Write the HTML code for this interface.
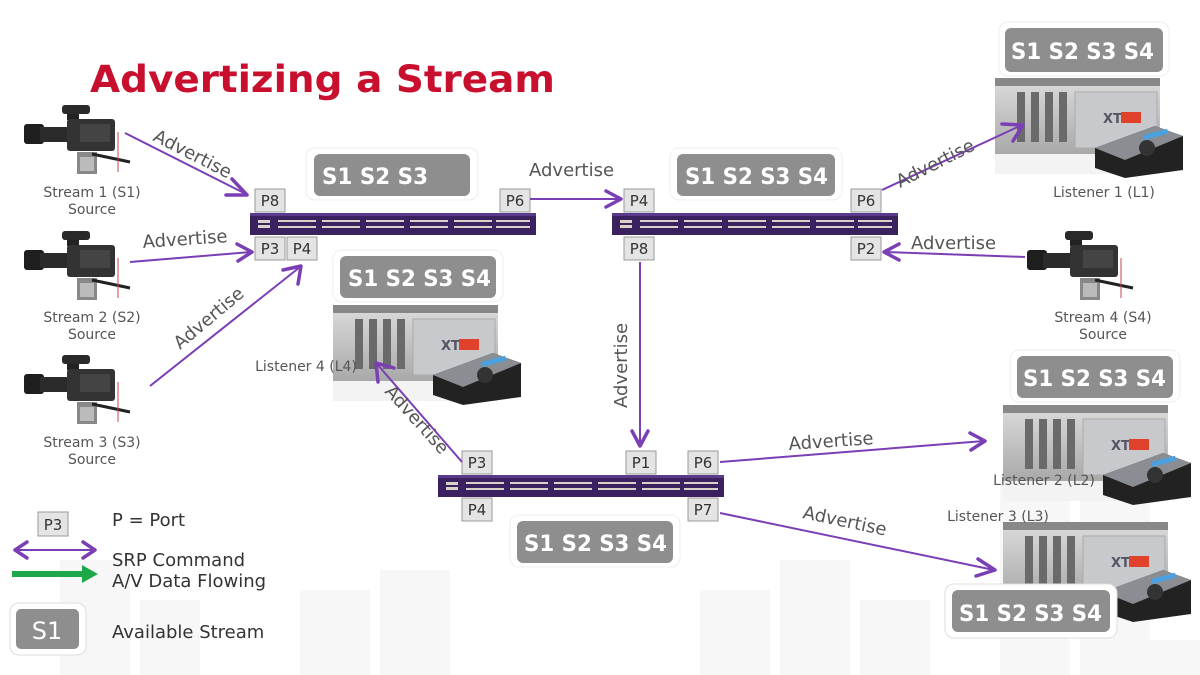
<!DOCTYPE html>
<html><head><meta charset="utf-8"><style>
html,body{margin:0;padding:0;background:#fff;}
svg{display:block;font-family:"DejaVu Sans","Liberation Sans",sans-serif;}
.pb{fill:#e4e4e4;stroke:#9a9a9a;stroke-width:1;}
.pt{font-size:15px;fill:#333;text-anchor:middle;}
.lbl{font-size:14px;fill:#555;text-anchor:middle;}
.adv{font-size:18px;fill:#555;}
.st{font-size:22px;font-weight:bold;fill:#fff;}
.ar{stroke:#7b3fb5;stroke-width:2;fill:none;}
.ah{stroke:#7b3fb5;stroke-width:3.5;fill:none;stroke-linecap:round;stroke-linejoin:round;}
.leg{font-size:18px;fill:#333;}
</style></head><body>
<svg width="1200" height="675" viewBox="0 0 1200 675">
<defs>
<linearGradient id="srv" x1="0" y1="0" x2="0" y2="1"><stop offset="0" stop-color="#d8d8d8"/><stop offset="1" stop-color="#a9a9a9"/></linearGradient>
<symbol id="cam" viewBox="0 0 110 80" width="110" height="80" overflow="visible">
 <rect x="45" y="10" width="12" height="8" fill="#222"/>
 <rect x="40" y="3" width="28" height="9" rx="3" fill="#2a2a2a"/>
 <rect x="2" y="22" width="20" height="20" rx="3" fill="#1e1e1e"/>
 <rect x="18" y="25" width="30" height="15" fill="#2b2b2b"/>
 <rect x="45" y="17" width="48" height="32" rx="3" fill="#333"/>
 <rect x="58" y="22" width="30" height="18" fill="#444"/>
 <rect x="55" y="50" width="20" height="22" fill="#888"/>
 <rect x="58" y="55" width="14" height="14" fill="#bbb"/>
 <line x1="70" y1="52" x2="108" y2="60" stroke="#222" stroke-width="3"/>
 <line x1="96" y1="30" x2="96" y2="70" stroke="#c44" stroke-width="1"/>
</symbol>
<symbol id="srvr" viewBox="0 0 190 100" width="190" height="100" overflow="visible">
 <rect x="0" y="6" width="165" height="70" fill="url(#srv)"/>
 <rect x="0" y="0" width="165" height="8" fill="#888"/>
 <g fill="#6a6a6a"><rect x="22" y="14" width="8" height="50"/><rect x="36" y="14" width="8" height="50"/><rect x="50" y="14" width="8" height="50"/><rect x="64" y="14" width="8" height="50"/></g>
 <rect x="80" y="14" width="82" height="56" fill="#c7c9cc" stroke="#aaa"/>
 <text x="108" y="45" font-size="13" font-weight="bold" fill="#556">XT</text>
 <rect x="126" y="34" width="20" height="11" fill="#e0412a"/>
 <rect x="0" y="76" width="165" height="20" fill="#f3f3f3"/>
 <polygon points="100,70 160,48 188,58 188,92 130,100 100,90" fill="#222"/>
 <polygon points="100,70 160,48 188,58 130,82" fill="#8a8d92"/>
 <rect x="148" y="54" width="25" height="5" fill="#4ba0e0" transform="rotate(-15 160 56)"/>
 <circle cx="152" cy="70" r="8" fill="#333"/>
</symbol>
<symbol id="sw" viewBox="0 0 286 22" width="286" height="22">
 <rect x="0" y="0" width="286" height="22" fill="#3b2160"/>
 <rect x="0" y="0" width="286" height="3" fill="#5a3a8a"/>
 <g fill="#d9d2c8">
  <rect x="8" y="7" width="12" height="3"/><rect x="8" y="12" width="12" height="3"/>
  <rect x="28" y="7" width="38" height="2"/><rect x="28" y="13" width="38" height="2"/>
  <rect x="72" y="7" width="38" height="2"/><rect x="72" y="13" width="38" height="2"/>
  <rect x="116" y="7" width="38" height="2"/><rect x="116" y="13" width="38" height="2"/>
  <rect x="160" y="7" width="38" height="2"/><rect x="160" y="13" width="38" height="2"/>
  <rect x="204" y="7" width="38" height="2"/><rect x="204" y="13" width="38" height="2"/>
  <rect x="246" y="7" width="34" height="2"/><rect x="246" y="13" width="34" height="2"/>
 </g>
</symbol>
</defs>
<rect width="1200" height="675" fill="#fff"/>
<g fill="#f7f7f7">
 <rect x="60" y="560" width="70" height="115"/><rect x="140" y="600" width="60" height="75"/>
 <rect x="300" y="590" width="70" height="85"/><rect x="380" y="570" width="70" height="105"/>
 <rect x="700" y="590" width="70" height="85"/><rect x="780" y="560" width="70" height="115"/>
 <rect x="860" y="600" width="70" height="75"/><rect x="1000" y="480" width="70" height="195"/>
 <rect x="1080" y="500" width="70" height="175"/><rect x="1130" y="640" width="70" height="35"/>
</g>

<text x="90" y="92" font-size="37" font-weight="bold" fill="#c8102e" textLength="465" lengthAdjust="spacingAndGlyphs">Advertizing a Stream</text>

<use href="#cam" x="22" y="102"/>
<use href="#cam" x="22" y="228"/>
<use href="#cam" x="22" y="352"/>
<use href="#cam" x="1025" y="228"/>
<text class="lbl" x="92" y="197">Stream 1 (S1)</text><text class="lbl" x="92" y="214">Source</text>
<text class="lbl" x="92" y="322">Stream 2 (S2)</text><text class="lbl" x="92" y="339">Source</text>
<text class="lbl" x="92" y="447">Stream 3 (S3)</text><text class="lbl" x="92" y="464">Source</text>
<text class="lbl" x="1103" y="322">Stream 4 (S4)</text><text class="lbl" x="1103" y="339">Source</text>

<use href="#srvr" x="995" y="78"/>
<use href="#srvr" x="333" y="305"/>
<use href="#srvr" x="1003" y="405"/>
<use href="#srvr" x="1003" y="522"/>
<text class="lbl" x="1104" y="197">Listener 1 (L1)</text>
<text class="lbl" x="306" y="371">Listener 4 (L4)</text>
<text class="lbl" x="1044" y="485">Listener 2 (L2)</text>
<text class="lbl" x="998" y="521">Listener 3 (L3)</text>

<g>
 <rect x="306" y="148" width="172" height="52" rx="9" fill="#fff" stroke="#eee"/>
 <rect x="314" y="154" width="156" height="42" rx="6" fill="#8e8e8e"/>
 <text class="st" x="322" y="184" textLength="106" lengthAdjust="spacingAndGlyphs">S1 S2 S3</text>
 <rect x="670" y="148" width="172" height="52" rx="9" fill="#fff" stroke="#eee"/>
 <rect x="677" y="154" width="158" height="42" rx="6" fill="#8e8e8e"/>
 <text class="st" x="685" y="184" textLength="143" lengthAdjust="spacingAndGlyphs">S1 S2 S3 S4</text>
 <rect x="333" y="250" width="170" height="52" rx="9" fill="#fff" stroke="#eee"/>
 <rect x="340" y="256" width="156" height="42" rx="6" fill="#8e8e8e"/>
 <text class="st" x="348" y="286" textLength="143" lengthAdjust="spacingAndGlyphs">S1 S2 S3 S4</text>
 <rect x="999" y="22" width="170" height="54" rx="9" fill="#fff" stroke="#eee"/>
 <rect x="1005" y="28" width="158" height="44" rx="6" fill="#8e8e8e"/>
 <text class="st" x="1011" y="59" textLength="143" lengthAdjust="spacingAndGlyphs">S1 S2 S3 S4</text>
 <rect x="1010" y="350" width="170" height="52" rx="9" fill="#fff" stroke="#eee"/>
 <rect x="1017" y="356" width="156" height="42" rx="6" fill="#8e8e8e"/>
 <text class="st" x="1023" y="386" textLength="143" lengthAdjust="spacingAndGlyphs">S1 S2 S3 S4</text>
 <rect x="510" y="515" width="170" height="52" rx="9" fill="#fff" stroke="#eee"/>
 <rect x="517" y="521" width="156" height="42" rx="6" fill="#8e8e8e"/>
 <text class="st" x="524" y="551" textLength="143" lengthAdjust="spacingAndGlyphs">S1 S2 S3 S4</text>
 <rect x="945" y="584" width="172" height="54" rx="9" fill="#fff" stroke="#ddd"/>
 <rect x="952" y="590" width="158" height="42" rx="6" fill="#8e8e8e"/>
 <text class="st" x="959" y="621" textLength="143" lengthAdjust="spacingAndGlyphs">S1 S2 S3 S4</text>
</g>

<use href="#sw" x="250" y="213"/>
<use href="#sw" x="612" y="213"/>
<use href="#sw" x="438" y="475"/>

<g>
 <rect class="pb" x="255" y="189" width="30" height="23"/><text class="pt" x="270" y="206">P8</text>
 <rect class="pb" x="500" y="189" width="30" height="23"/><text class="pt" x="515" y="206">P6</text>
 <rect class="pb" x="255" y="237" width="30" height="23"/><text class="pt" x="270" y="254">P3</text>
 <rect class="pb" x="287" y="237" width="30" height="23"/><text class="pt" x="302" y="254">P4</text>
 <rect class="pb" x="624" y="189" width="30" height="23"/><text class="pt" x="639" y="206">P4</text>
 <rect class="pb" x="851" y="189" width="30" height="23"/><text class="pt" x="866" y="206">P6</text>
 <rect class="pb" x="624" y="237" width="30" height="23"/><text class="pt" x="639" y="254">P8</text>
 <rect class="pb" x="851" y="237" width="30" height="23"/><text class="pt" x="866" y="254">P2</text>
 <rect class="pb" x="462" y="451" width="30" height="23"/><text class="pt" x="477" y="468">P3</text>
 <rect class="pb" x="626" y="451" width="30" height="23"/><text class="pt" x="641" y="468">P1</text>
 <rect class="pb" x="688" y="451" width="30" height="23"/><text class="pt" x="703" y="468">P6</text>
 <rect class="pb" x="462" y="498" width="30" height="23"/><text class="pt" x="477" y="515">P4</text>
 <rect class="pb" x="688" y="498" width="30" height="23"/><text class="pt" x="703" y="515">P7</text>
</g>

<g>
 <line class="ar" x1="125" y1="133" x2="246" y2="194"/><polyline class="ah" points="232,179 247,195 226,195"/>
 <line class="ar" x1="130" y1="262" x2="251" y2="252"/><polyline class="ah" points="237,244 252,252 238,261"/>
 <line class="ar" x1="150" y1="386" x2="300" y2="267"/><polyline class="ah" points="283,270 301,266 298,284"/>
 <line class="ar" x1="530" y1="199" x2="620" y2="199"/><polyline class="ah" points="606,191 621,199 606,207"/>
 <line class="ar" x1="640" y1="262" x2="640" y2="445"/><polyline class="ah" points="632,431 640,446 648,431"/>
 <line class="ar" x1="882" y1="190" x2="1022" y2="125"/><polyline class="ah" points="1002,124 1023,125 1013,141"/>
 <line class="ar" x1="1025" y1="257" x2="885" y2="252"/><polyline class="ah" points="899,244 884,252 899,260"/>
 <line class="ar" x1="462" y1="462" x2="377" y2="364"/><polyline class="ah" points="378,382 376,363 394,368"/>
 <line class="ar" x1="720" y1="462" x2="984" y2="441"/><polyline class="ah" points="970,433 985,441 971,450"/>
 <line class="ar" x1="720" y1="513" x2="994" y2="570"/><polyline class="ah" points="978,559 995,570 976,576"/>
</g>
<g>
 <text class="adv" x="152" y="140" transform="rotate(27 152 140)">Advertise</text>
 <text class="adv" x="143" y="248" transform="rotate(-4 143 248)">Advertise</text>
 <text class="adv" x="180" y="350" transform="rotate(-40 180 350)">Advertise</text>
 <text class="adv" x="529" y="176">Advertise</text>
 <text class="adv" x="627" y="408" transform="rotate(-90 627 408)">Advertise</text>
 <text class="adv" x="900" y="188" transform="rotate(-27 900 188)">Advertise</text>
 <text class="adv" x="911" y="249">Advertise</text>
 <text class="adv" x="384" y="392" transform="rotate(48 384 392)">Advertise</text>
 <text class="adv" x="789" y="450" transform="rotate(-4 789 450)">Advertise</text>
 <text class="adv" x="802" y="518" transform="rotate(12 802 518)">Advertise</text>
</g>

<rect class="pb" x="38" y="512" width="30" height="24"/><text class="pt" x="53" y="530">P3</text>
<line x1="16" y1="550" x2="94" y2="550" stroke="#7b3fb5" stroke-width="2"/>
<polyline class="ah" points="27,542 15,550 27,558"/><polyline class="ah" points="83,542 95,550 83,558"/>
<line x1="12" y1="574" x2="84" y2="574" stroke="#1ea84a" stroke-width="6"/>
<polygon points="82,565 98,574 82,583" fill="#1ea84a"/>
<text class="leg" x="112" y="526">P = Port</text>
<text class="leg" x="112" y="566">SRP Command</text>
<text class="leg" x="112" y="587">A/V Data Flowing</text>
<rect x="10" y="603" width="76" height="52" rx="9" fill="#fff" stroke="#ddd"/>
<rect x="16" y="609" width="63" height="40" rx="5" fill="#8e8e8e"/>
<text x="47" y="639" font-size="24" fill="#fff" text-anchor="middle">S1</text>
<text class="leg" x="112" y="638">Available Stream</text>
</svg>
</body></html>
